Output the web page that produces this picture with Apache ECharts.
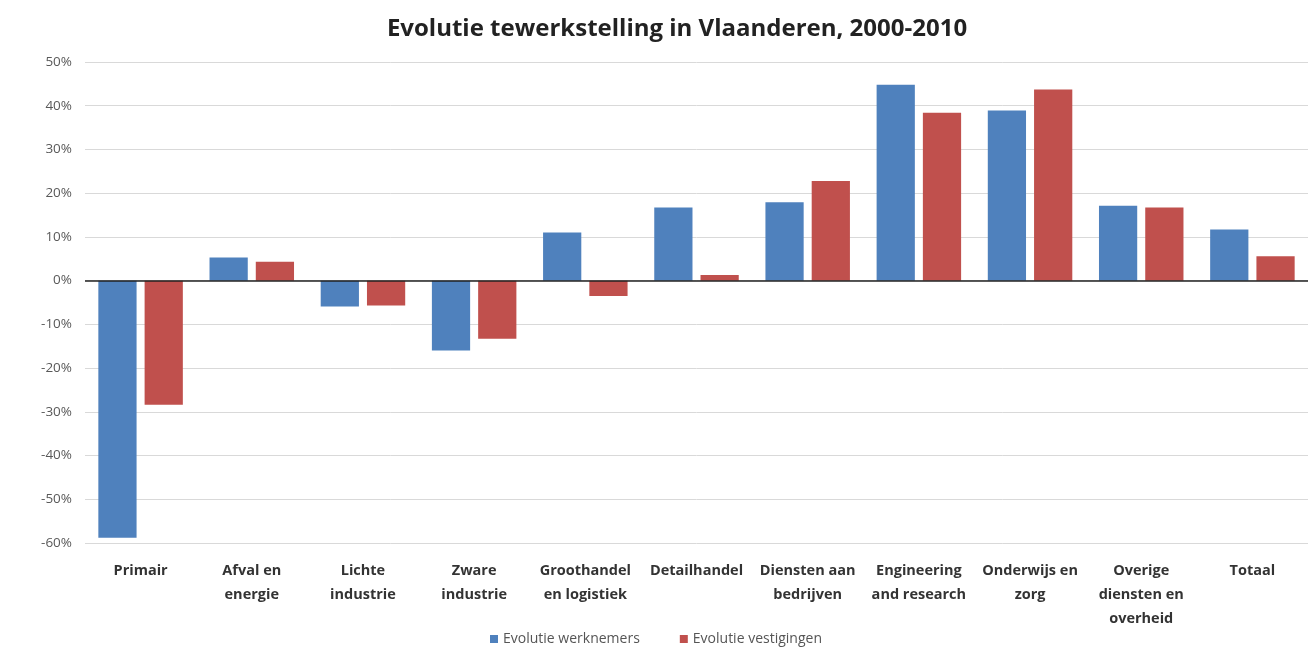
<!DOCTYPE html>
<html>
<head>
<meta charset="utf-8">
<script src="https://cdn.jsdelivr.net/npm/echarts@6/dist/echarts.min.js"></script>
<style>
html,body{margin:0;padding:0;background:#fff;}
#chart{width:1312px;height:647px;}
</style>
</head>
<body>
<div id="chart"></div>
<script>
const categories = [
  "Primair", "Afval en\nenergie", "Lichte\nindustrie", "Zware\nindustrie",
  "Groothandel\nen logistiek", "Detailhandel", "Diensten aan\nbedrijven",
  "Engineering\nand research", "Onderwijs en\nzorg", "Overige\ndiensten en\noverheid", "Totaal"
];
const werknemers = [-58.8, 5.3, -5.9, -16.0, 11.0, 16.7, 17.9, 44.8, 38.9, 17.1, 11.7];
const vestigingen = [-28.4, 4.3, -5.7, -13.3, -3.5, 1.3, 22.8, 38.4, 43.7, 16.7, 5.6];
const seriesNames = ["Evolutie werknemers", "Evolutie vestigingen"];
const titleText = "Evolutie tewerkstelling in Vlaanderen, 2000-2010";

const FONT = "'Open Sans', 'Liberation Sans', sans-serif";
const chart = echarts.init(document.getElementById('chart'));
chart.setOption({
  animation: false,
  backgroundColor: '#fff',
  title: {
    text: titleText, left: 672, top: 12, textAlign: 'center',
    textStyle: { fontFamily: FONT, fontSize: 24, fontWeight: 'bold', color: '#222' }
  },
  legend: {
    top: 627, left: 'center', itemWidth: 8, itemHeight: 8, itemGap: 40, icon: 'rect',
    textStyle: { fontFamily: FONT, fontSize: 14, color: '#555' },
    data: seriesNames
  },
  grid: { left: 85, right: 4, top: 62, bottom: 104 },
  xAxis: {
    type: 'category', data: categories,
    axisLine: { show: false }, axisTick: { show: false },
    axisLabel: {
      interval: 0, margin: 16, fontFamily: FONT, fontSize: 14.5, fontWeight: 'bold',
      color: '#333', lineHeight: 24, verticalAlign: 'top'
    }
  },
  yAxis: {
    type: 'value', min: -60, max: 50, interval: 10,
    axisLine: { show: false }, axisTick: { show: false },
    axisLabel: { formatter: '{value}%', fontFamily: FONT, fontSize: 13.5, color: '#595959', margin: 13 },
    splitLine: { lineStyle: { color: '#d9d9d9', width: 1 } }
  },
  series: [
    {
      name: seriesNames[0], type: 'bar', data: werknemers,
      itemStyle: { color: '#4f81bd' }, barGap: '21%', barCategoryGap: '24%',
      markLine: {
        silent: true, symbol: 'none', label: { show: false },
        lineStyle: { color: '#222', width: 1.5, type: 'solid' },
        data: [{ yAxis: 0 }]
      }
    },
    {
      name: seriesNames[1], type: 'bar', data: vestigingen,
      itemStyle: { color: '#c0504d' }, barGap: '21%', barCategoryGap: '24%'
    }
  ]
});
</script>
</body>
</html>
